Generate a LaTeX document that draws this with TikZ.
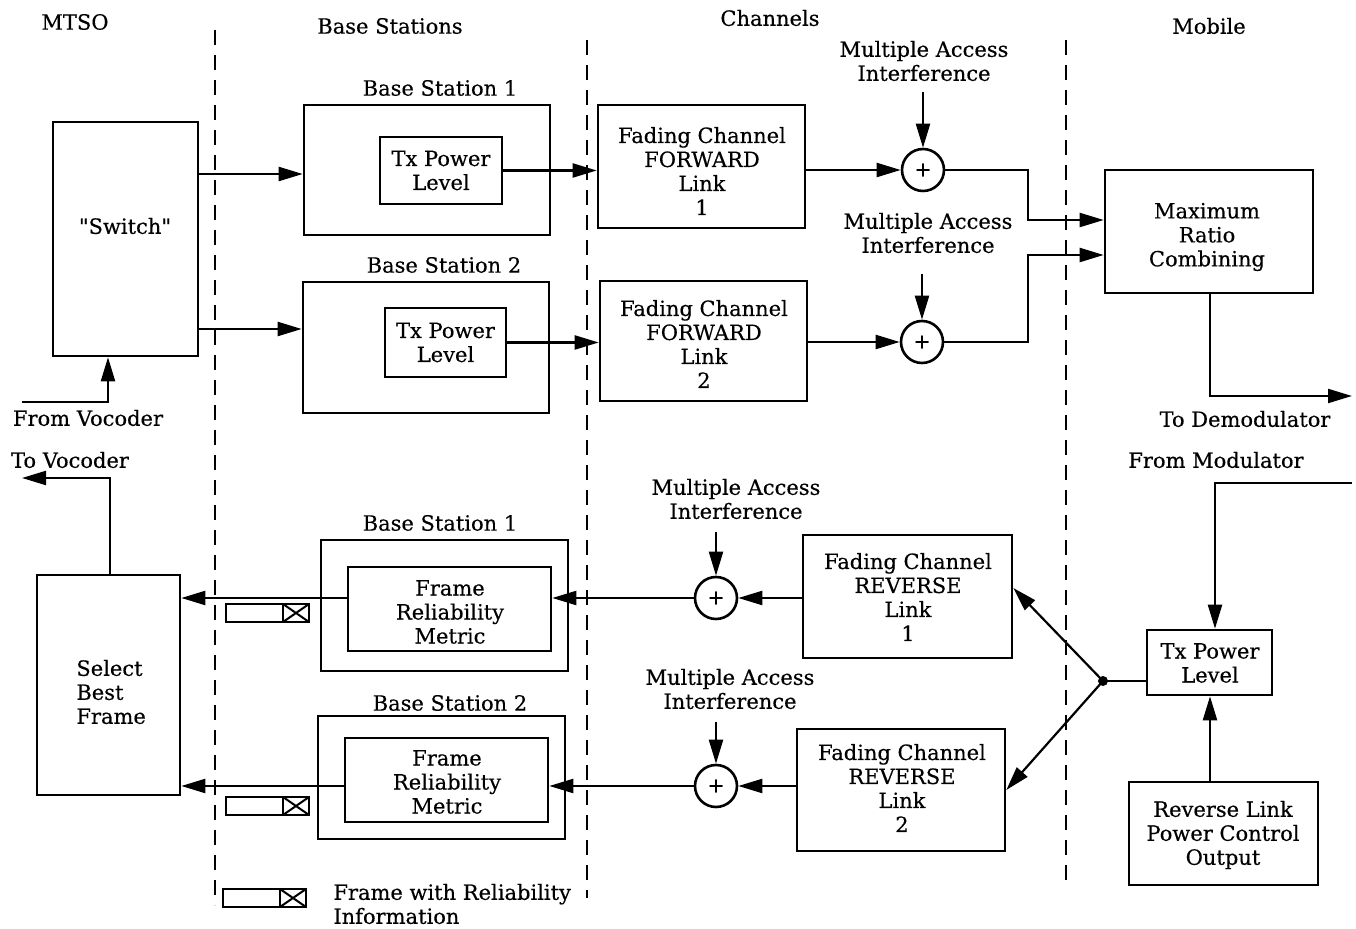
\documentclass[tikz,border=0pt]{standalone}
\usepackage{fontspec}
\setmainfont[FakeBold=0.35]{DejaVu Serif}
\usetikzlibrary{arrows.meta,fit}

\begin{document}
\begin{tikzpicture}[x=0.5pt,y=-0.5pt,
  every node/.style={font=\fontsize{10.5}{12}\selectfont, inner sep=0pt},
  blk/.style={draw, line width=1.3pt, inner sep=0pt},
  txt/.style={align=center},
  sum/.style={draw, circle, line width=1.3pt, minimum size=21pt, font=\fontsize{10}{10}\selectfont},
  conn/.style={line width=1.1pt},
  arr/.style={line width=1.1pt, -{Triangle[length=12pt,width=7pt]}},
  sep/.style={line width=1.3pt, dash pattern=on 7.5pt off 5pt},
  frame/.pic={
    \draw[line width=1.1pt] (0,0) rectangle (83,18);
    \draw[line width=1.1pt] (57,0) rectangle (83,18);
    \draw[line width=1pt] (57,0) -- (83,18) (57,18) -- (83,0);
  }]

\fill[white] (0,0) rectangle (1356,929);
\useasboundingbox (0,0) rectangle (1356,929);

% column separators
\draw[sep] (215,30) -- (215,905);
\draw[sep] (587,40) -- (587,898);
\draw[sep] (1066,40) -- (1066,888);

% column headings
\node (hmtso) at (75,22) {MTSO};
\node (hbs) at (390,26) {Base Stations};
\node (hch) at (770,18) {Channels};
\node (hmob) at (1209,26) {Mobile};

% ---------------- forward link ----------------
\node[blk, fit={(53,122)(198,356)}] (sw) {};
\node[txt] (swt) at (125,226) {\textquotedbl Switch\textquotedbl};
\node (fvt) at (88,418) {From Vocoder};
\coordinate (fv) at (22,402);

\node (bs1t) at (440,88) {Base Station 1};
\node[blk, fit={(304,105)(550,235)}] (bs1) {};
\node[blk, fit={(380,137)(502,204)}] (tx1) {};
\node[txt] (tx1t) at (tx1) {Tx Power\\Level};

\node (bs2t) at (444,265) {Base Station 2};
\node[blk, fit={(303,282)(549,413)}] (bs2) {};
\node[blk, fit={(385,308)(506,377)}] (tx2) {};
\node[txt] (tx2t) at (tx2) {Tx Power\\Level};

\node[blk, fit={(598,105)(805,228)}] (f1) {};
\node[txt] (f1t) at (702,171) {Fading Channel\\FORWARD\\Link\\1};
\node[blk, fit={(600,281)(807,401)}] (f2) {};
\node[txt] (f2t) at (704,344) {Fading Channel\\FORWARD\\Link\\2};

\node[txt] (mai1) at (924,61) {Multiple Access\\Interference};
\node[txt] (mai2) at (928,233) {Multiple Access\\Interference};
\node[sum] (c1) at (923,170) {+};
\node[sum] (c2) at (922,342) {+};

\node[blk, fit={(1105,170)(1313,293)}] (mrc) {};
\node[txt] (mrct) at (1207,237) {Maximum\\Ratio\\Combining};
\node (tdmt) at (1245,419) {To Demodulator};
\coordinate (tdm) at (1352,396);

\draw[arr] (sw.east |- 0,174) -- (bs1.west |- 0,174);
\draw[arr] (sw.east |- 0,329) -- (bs2.west |- 0,329);
\draw[arr] (fv) -| (sw.south -| 108,0);
\draw[arr] (tx1.east) -- (f1.west |- tx1.east);
\draw[arr] (tx2.east) -- (f2.west |- tx2.east);
\draw[arr] (f1.east |- c1) -- (c1.west);
\draw[arr] (f2.east |- c2) -- (c2.west);
\draw[arr, shorten <=5pt] (mai1.south -| c1) -- (c1.north);
\draw[arr, shorten <=10pt] (mai2.south -| c2) -- (c2.north);
\draw[arr] (c1.east) -| (1028,220) -- (mrc.west |- 0,220);
\draw[arr] (c2.east) -| (1028,255) -- (mrc.west |- 0,255);
\draw[arr] (mrc.south -| 1210,0) |- (tdm);

% ---------------- reverse link ----------------
\node (tvt) at (70,460) {To Vocoder};
\coordinate (tv) at (22,478);
\node[blk, fit={(37,575)(180,795)}] (sel) {};
\node[align=left, anchor=west] (selt) at (76,692) {Select\\Best\\Frame};

\node (rbs1t) at (440,523) {Base Station 1};
\node[blk, fit={(321,540)(568,671)}] (rbs1) {};
\node[blk, fit={(348,567)(551,651)}] (frm1) {};
\node[txt] (frm1t) at (450,612) {Frame\\Reliability\\Metric};

\node (rbs2t) at (450,703) {Base Station 2};
\node[blk, fit={(318,716)(565,839)}] (rbs2) {};
\node[blk, fit={(345,738)(548,822)}] (frm2) {};
\node[txt] (frm2t) at (447,782) {Frame\\Reliability\\Metric};

\node[txt] (mai3) at (736,499) {Multiple Access\\Interference};
\node[txt] (mai4) at (730,689) {Multiple Access\\Interference};
\node[sum] (c3) at (716,598) {+};
\node[sum] (c4) at (716,786) {+};

\node[blk, fit={(803,535)(1012,658)}] (rf1) {};
\node[txt] (rf1t) at (908,597) {Fading Channel\\REVERSE\\Link\\1};
\node[blk, fit={(797,729)(1005,851)}] (rf2) {};
\node[txt] (rf2t) at (902,788) {Fading Channel\\REVERSE\\Link\\2};

\node[blk, fit={(1147,630)(1272,695)}] (txm) {};
\node[txt] (txmt) at (1210,663) {Tx Power\\Level};
\node[blk, fit={(1129,782)(1318,885)}] (rlpc) {};
\node[txt] (rlpct) at (1223,835) {Reverse Link\\Power Control\\Output};
\node (fmt) at (1216,460) {From Modulator};
\coordinate (fm) at (1352,483);
\coordinate (jn) at (1103,681);

\draw[arr] (sel.north -| 110,0) |- (tv);
\draw[arr] (frm1.west |- 0,598) -- (sel.east |- 0,598);
\draw[arr] (frm2.west |- c4) -- (sel.east |- c4);
\draw[arr] (c3.west) -- (frm1.east |- c3);
\draw[arr] (c4.west) -- (frm2.east |- c4);
\draw[arr] (rf1.west |- c3) -- (c3.east);
\draw[arr] (rf2.west |- c4) -- (c4.east);
\draw[arr, shorten <=6pt] (mai3.south -| c3) -- (c3.north);
\draw[arr, shorten <=6pt] (mai4.south -| c4) -- (c4.north);
\draw[conn] (jn) -- (txm.west |- jn);
\draw[arr] (jn) -- (rf1.east |- 0,588);
\draw[arr] (jn) -- (rf2.east |- 0,790);
\fill (jn) circle (2.5pt);
\draw[arr] (fm) -| (txm.north -| 1215,0);
\draw[arr] (rlpc.north -| 1210,0) -- (txm.south -| 1210,0);

% frames carrying reliability information
\pic (fr1) at (226,604) {frame};
\pic (fr2) at (226,797) {frame};
\pic (frl) at (223,889) {frame};
\node[align=left, anchor=west] (legt) at (333,904) {Frame with Reliability\\Information};

\end{tikzpicture}
\end{document}
